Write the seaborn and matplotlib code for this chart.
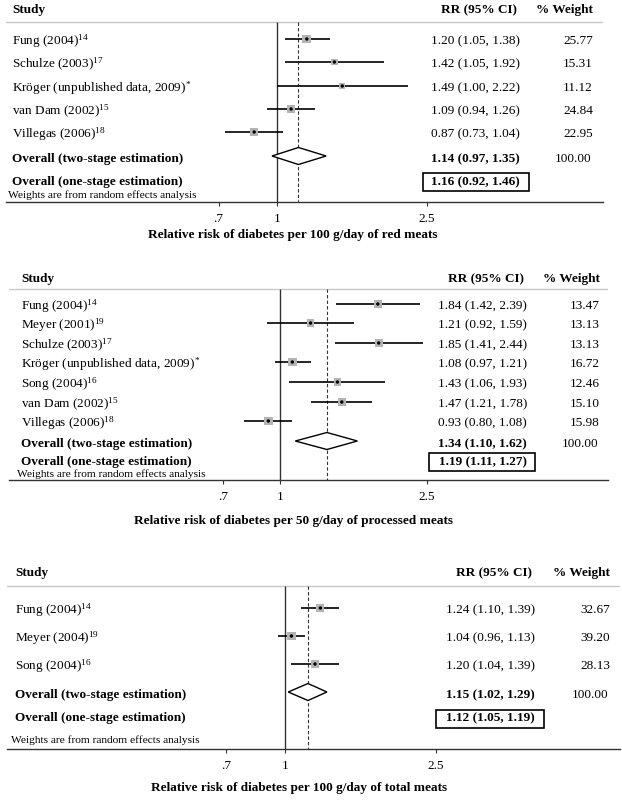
import numpy as np
import pandas as pd
import matplotlib
matplotlib.use("Agg")
import matplotlib.pyplot as plt
import matplotlib.patches as mpatches
import matplotlib.transforms as mtransforms
import seaborn as sns

W, H = 622, 800

# ---- data: red meats (100 g/day) ----
red_study = ["Fung (2004)$^{14}$", "Schulze (2003)$^{17}$",
             "Kröger (unpublished data, 2009)$^{*}$", "van Dam (2002)$^{15}$",
             "Villegas (2006)$^{18}$"]
red_rr = [1.20, 1.42, 1.49, 1.09, 0.87]
red_lo = [1.05, 1.05, 1.00, 0.94, 0.73]
red_hi = [1.38, 1.92, 2.22, 1.26, 1.04]
red_wt = [25.77, 15.31, 11.12, 24.84, 22.95]
red_two = [1.14, 0.97, 1.35]
red_one = [1.16, 0.92, 1.46]

# ---- data: processed meats (50 g/day) ----
proc_study = ["Fung (2004)$^{14}$", "Meyer (2001)$^{19}$", "Schulze (2003)$^{17}$",
              "Kröger (unpublished data, 2009)$^{*}$", "Song (2004)$^{16}$",
              "van Dam (2002)$^{15}$", "Villegas (2006)$^{18}$"]
proc_rr = [1.84, 1.21, 1.85, 1.08, 1.43, 1.47, 0.93]
proc_lo = [1.42, 0.92, 1.41, 0.97, 1.06, 1.21, 0.80]
proc_hi = [2.39, 1.59, 2.44, 1.21, 1.93, 1.78, 1.08]
proc_wt = [13.47, 13.13, 13.13, 16.72, 12.46, 15.10, 15.98]
proc_two = [1.34, 1.10, 1.62]
proc_one = [1.19, 1.11, 1.27]

# ---- data: total meats (100 g/day) ----
tot_study = ["Fung (2004)$^{14}$", "Meyer (2004)$^{19}$", "Song (2004)$^{16}$"]
tot_rr = [1.24, 1.04, 1.20]
tot_lo = [1.10, 0.96, 1.04]
tot_hi = [1.39, 1.13, 1.39]
tot_wt = [32.67, 39.20, 28.13]
tot_two = [1.15, 1.02, 1.29]
tot_one = [1.12, 1.05, 1.19]

total_weight = [100.00, 100.00, 100.00]

titles = ["Relative risk of diabetes per 100 g/day of red meats",
          "Relative risk of diabetes per 50 g/day of processed meats",
          "Relative risk of diabetes per 100 g/day of total meats"]
tick_vals = [0.7, 1, 2.5]
tick_labels = [".7", "1", "2.5"]

plt.rcParams["mathtext.default"] = "regular"
plt.rcParams["font.family"] = ["Liberation Serif", "DejaVu Serif"]
FS = 9.5

# layout of each panel, in pixels of the 622x800 picture
layouts = [
    dict(hdr=10, sep=22, rows=[39, 62, 86, 109, 132], two=156, one=182,
         box=(423, 529, 173, 191), note=195, axis=202, title=235,
         x0=6, x1=603, p1=277, k=163.7, sx=12, rrx=520, wx=593, tx=293),
    dict(hdr=279, sep=289, rows=[304, 323, 343, 362, 382, 402, 421], two=441, one=462,
         box=(429, 535, 453, 471), note=474, axis=480, title=521,
         x0=9, x1=608, p1=280, k=160.4, sx=21, rrx=527, wx=600, tx=294),
    dict(hdr=573, sep=586, rows=[608, 636, 664], two=692, one=718,
         box=(436, 544, 710, 728), note=740, axis=749, title=788,
         x0=7, x1=620, p1=285, k=164.5, sx=15, rrx=535, wx=610, tx=299),
]

panels = [
    (red_study, red_rr, red_lo, red_hi, red_wt, red_two, red_one),
    (proc_study, proc_rr, proc_lo, proc_hi, proc_wt, proc_two, proc_one),
    (tot_study, tot_rr, tot_lo, tot_hi, tot_wt, tot_two, tot_one),
]

fig = plt.figure(figsize=(W / 100, H / 100), dpi=100)
fig.patch.set_facecolor("white")

for (study, rr, lo, hi, wt, two, one), tw, L, title in zip(panels, total_weight,
                                                          layouts, titles):
    top = L["hdr"] - 12
    ax = fig.add_axes([L["x0"] / W, 1 - L["axis"] / H,
                       (L["x1"] - L["x0"]) / W, (L["axis"] - top) / H])
    ax.set_xscale("log")
    rr_at = lambda px: np.exp((px - L["p1"]) / L["k"])
    ax.set_xlim(rr_at(L["x0"]), rr_at(L["x1"]))
    ax.set_ylim(L["axis"], top)
    ax.patch.set_alpha(0)

    trans = mtransforms.blended_transform_factory(fig.transFigure, ax.transData)
    fx = lambda px: px / W

    # header + separator
    ax.text(fx(L["sx"]), L["hdr"], "Study", transform=trans, fontsize=FS,
            fontweight="bold", va="center", ha="left")
    ax.text(fx(L["rrx"] - 3), L["hdr"], "RR (95% CI)", transform=trans, fontsize=FS,
            fontweight="bold", va="center", ha="right")
    ax.text(fx(L["wx"]), L["hdr"], "% Weight", transform=trans, fontsize=FS,
            fontweight="bold", va="center", ha="right")
    ax.axhline(L["sep"], color="#c8c8c8", lw=1.0)

    # reference lines
    ax.vlines(1, L["sep"], L["axis"], color="#333333", lw=1.0)
    ax.vlines(two[0], L["sep"], L["axis"], color="#333333", lw=0.8,
              linestyles=(0, (3, 2)))

    rows = L["rows"]
    df = pd.DataFrame(dict(study=study, rr=rr, lo=lo, hi=hi, wt=wt, y=rows))

    ax.hlines(df["y"], df["lo"], df["hi"], color="black", lw=1.2)
    sns.scatterplot(data=df, x="rr", y="y", size="wt", sizes=(0, 40),
                    size_norm=(0, df["wt"].max()), marker="s", color="#b4b4b4",
                    edgecolor="none", legend=False, ax=ax, zorder=3)
    sns.scatterplot(data=df, x="rr", y="y", s=6, marker="o", color="black",
                    edgecolor="none", legend=False, ax=ax, zorder=4)

    for _, r in df.iterrows():
        ax.text(fx(L["sx"]), r["y"] + 2, r["study"], transform=trans, fontsize=FS,
                va="center", ha="left")
        ax.text(fx(L["rrx"]), r["y"] + 2, f"{r['rr']:.2f} ({r['lo']:.2f}, {r['hi']:.2f})",
                transform=trans, fontsize=FS, va="center", ha="right")
        ax.text(fx(L["wx"]), r["y"] + 2, f"{r['wt']:.2f}", transform=trans,
                fontsize=FS, va="center", ha="right")

    # pooled diamond
    yd, hd = L["two"], 8.5
    ax.fill([two[1], two[0], two[2], two[0]], [yd, yd - hd, yd, yd + hd],
            facecolor="white", edgecolor="black", lw=1.0, zorder=3)
    ax.text(fx(L["sx"]), yd + 3, "Overall (two-stage estimation)", transform=trans,
            fontsize=FS, fontweight="bold", va="center", ha="left")
    ax.text(fx(L["rrx"]), yd + 3, f"{two[0]:.2f} ({two[1]:.2f}, {two[2]:.2f})",
            transform=trans, fontsize=FS, fontweight="bold", va="center", ha="right")
    ax.text(fx(L["wx"] - 2), yd + 3, f"{tw:.2f}", transform=trans, fontsize=FS,
            va="center", ha="right")

    ax.text(fx(L["sx"]), L["one"], "Overall (one-stage estimation)", transform=trans,
            fontsize=FS, fontweight="bold", va="center", ha="left")
    ax.text(fx(L["rrx"]), L["one"], f"{one[0]:.2f} ({one[1]:.2f}, {one[2]:.2f})",
            transform=trans, fontsize=FS, fontweight="bold", va="center", ha="right")
    bx0, bx1, by0, by1 = L["box"]
    ax.add_patch(mpatches.Rectangle((fx(bx0), by0), (bx1 - bx0) / W, by1 - by0,
                                    transform=trans, fill=False, edgecolor="black",
                                    lw=1.2, clip_on=False))

    ax.text(fx(L["sx"] - 4), L["note"], "Weights are from random effects analysis",
            transform=trans, fontsize=8.2, va="center", ha="left")

    ax.text(fx(L["tx"]), L["title"], title, transform=trans, fontsize=FS,
            fontweight="bold", va="center", ha="center")

    # axis styling (after seaborn, which sets axis labels)
    ax.set_xlabel("")
    ax.set_ylabel("")
    for s in ["top", "left", "right"]:
        ax.spines[s].set_visible(False)
    ax.spines["bottom"].set_color("#333333")
    ax.spines["bottom"].set_linewidth(1.0)
    ax.set_yticks([])
    ax.set_xticks(tick_vals)
    ax.set_xticklabels(tick_labels)
    ax.xaxis.set_minor_locator(matplotlib.ticker.NullLocator())
    ax.tick_params(axis="x", length=3, width=0.8, color="#333333",
                   labelsize=FS, pad=5)

fig.savefig("out.png", dpi=100, facecolor="white")
